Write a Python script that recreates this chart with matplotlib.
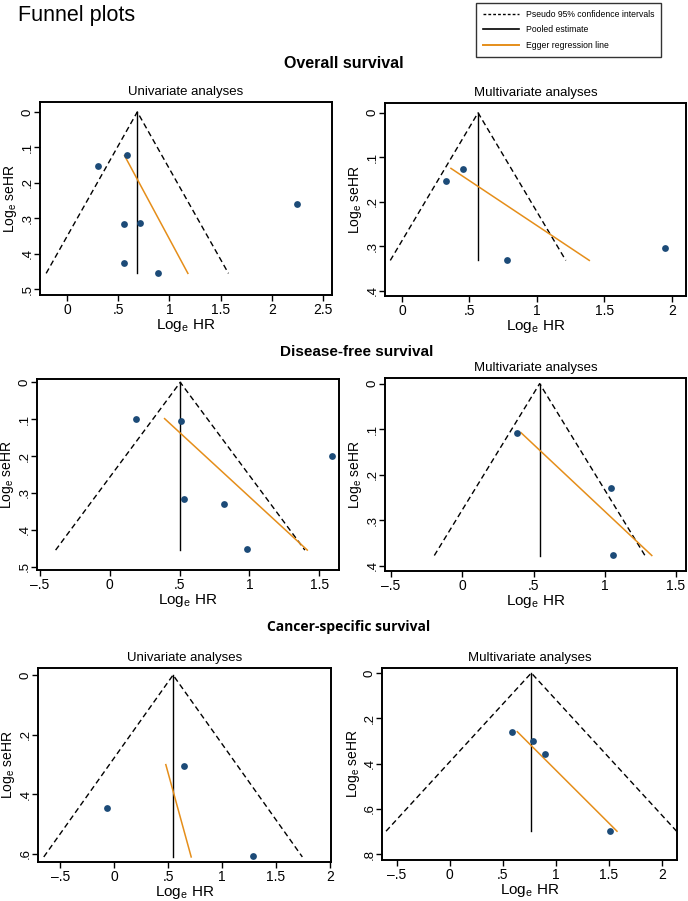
import matplotlib
matplotlib.use("Agg")
import matplotlib.pyplot as plt
from matplotlib.lines import Line2D

plt.rcParams['font.family'] = ['Liberation Sans', 'DejaVu Sans']
plt.rcParams['mathtext.default'] = 'regular'

# values
# overall survival, univariate
os_uni_hr = [0.30, 0.58, 2.25, 0.55, 0.71, 0.55, 0.89]
os_uni_se = [0.153, 0.122, 0.259, 0.317, 0.314, 0.427, 0.454]
os_uni_pooled, os_uni_semax = 0.685, 0.455
os_uni_egger = [(0.56, 0.123), (1.18, 0.455)]

# overall survival, multivariate
os_multi_hr = [0.33, 0.455, 0.776, 1.95]
os_multi_se = [0.153, 0.126, 0.331, 0.305]
os_multi_pooled, os_multi_semax = 0.564, 0.332
os_multi_egger = [(0.363, 0.125), (1.389, 0.332)]

# disease-free survival, univariate
dfs_uni_hr = [0.185, 0.51, 1.59, 0.529, 0.815, 0.98]
dfs_uni_se = [0.0995, 0.106, 0.200, 0.317, 0.330, 0.453]
dfs_uni_pooled, dfs_uni_semax = 0.505, 0.455
dfs_uni_egger = [(0.393, 0.0985), (1.414, 0.455)]

# disease-free survival, multivariate
dfs_multi_hr = [0.387, 1.047, 1.06]
dfs_multi_se = [0.1075, 0.229, 0.376]
dfs_multi_pooled, dfs_multi_semax = 0.543, 0.377
dfs_multi_egger = [(0.412, 0.1075), (1.33, 0.377)]

# cancer-specific survival, univariate
css_uni_hr = [-0.068, 0.643, 1.286]
css_uni_se = [0.448, 0.3045, 0.609]
css_uni_pooled, css_uni_semax = 0.546, 0.611
css_uni_egger = [(0.479, 0.301), (0.714, 0.611)]

# cancer-specific survival, multivariate
css_multi_hr = [0.587, 0.782, 0.895, 1.51]
css_multi_se = [0.259, 0.302, 0.359, 0.698]
css_multi_pooled, css_multi_semax = 0.769, 0.698
css_multi_egger = [(0.637, 0.259), (1.576, 0.698)]

W, H = 688, 901
DOT = '#1c4b78'
ORANGE = '#e58e1a'


def fmt(v):
    # stata style labels: .5, -.5, 1.5
    s = ('%g' % round(v, 2))
    if s.startswith('0.'):
        s = s[1:]
    elif s.startswith('-0.'):
        s = '-' + s[2:]
    return s.replace('-', '\u2013')


def panel(fig, box, hr, se, pooled, semax, egger, xlim, ylim, xticks, yticks, title):
    l, t, r, b = box
    ax = fig.add_axes([l / W, 1 - b / H, (r - l) / W, (b - t) / H])
    half = 1.96 * semax
    ax.plot([pooled - half, pooled, pooled + half], [semax, 0, semax],
            color='black', lw=1.0, ls=(0, (4, 2.5)))
    ax.plot([pooled, pooled], [0, semax], color='black', lw=1.0)
    ax.plot([egger[0][0], egger[1][0]], [egger[0][1], egger[1][1]],
            color=ORANGE, lw=1.1)
    ax.scatter(hr, se, s=24, color=DOT, zorder=5, linewidths=0)
    ax.set_xlim(*xlim)
    ax.set_ylim(*ylim)
    ax.set_xticks(xticks)
    ax.set_xticklabels([fmt(v) for v in xticks])
    ax.set_yticks(yticks)
    ax.set_yticklabels([fmt(v) for v in yticks], rotation=90, va='center')
    ax.tick_params(direction='out', length=4, width=1, labelsize=10)
    ax.tick_params(axis='x', pad=1.5)
    ax.tick_params(axis='y', pad=0.5, labelsize=9.5)
    for sp in ax.spines.values():
        sp.set_linewidth(1.4)
    ax.set_xlabel('Log$_e$ HR', fontsize=11, labelpad=0)
    ax.set_ylabel('Log$_e$ seHR', fontsize=10)
    # place the y label by pixels, the way the reference has it
    ax.yaxis.set_label_coords(-20.5 / (r - l), 0.5)
    if title:
        ax.set_title(title, fontsize=9.5, pad=5)
    return ax


fig = plt.figure(figsize=(W / 100, H / 100), dpi=100)

panel(fig, (40, 102, 332, 295), os_uni_hr, os_uni_se, os_uni_pooled, os_uni_semax,
      os_uni_egger, (-0.267, 2.59), (0.516, -0.028), [0, 0.5, 1, 1.5, 2, 2.5],
      [0, 0.1, 0.2, 0.3, 0.4, 0.5], 'Univariate analyses')
panel(fig, (385, 103, 686, 296), os_multi_hr, os_multi_se, os_multi_pooled, os_multi_semax,
      os_multi_egger, (-0.126, 2.106), (0.412, -0.022), [0, 0.5, 1, 1.5, 2],
      [0, 0.1, 0.2, 0.3, 0.4], 'Multivariate analyses')
panel(fig, (37, 379, 339, 570), dfs_uni_hr, dfs_uni_se, dfs_uni_pooled, dfs_uni_semax,
      dfs_uni_egger, (-0.52, 1.641), (0.509, -0.009), [-0.5, 0, 0.5, 1, 1.5],
      [0, 0.1, 0.2, 0.3, 0.4, 0.5], None)
panel(fig, (385, 378, 686, 571), dfs_multi_hr, dfs_multi_se, dfs_multi_pooled, dfs_multi_semax,
      dfs_multi_egger, (-0.542, 1.57), (0.411, -0.0124), [-0.5, 0, 0.5, 1, 1.5],
      [0, 0.1, 0.2, 0.3, 0.4], 'Multivariate analyses')
panel(fig, (38, 668, 331, 862), css_uni_hr, css_uni_se, css_uni_pooled, css_uni_semax,
      css_uni_egger, (-0.705, 2.009), (0.628, -0.0236), [-0.5, 0, 0.5, 1, 1.5, 2],
      [0, 0.2, 0.4, 0.6], 'Univariate analyses')
panel(fig, (382, 668, 677, 860), css_multi_hr, css_multi_se, css_multi_pooled, css_multi_semax,
      css_multi_egger, (-0.637, 2.141), (0.825, -0.022), [-0.5, 0, 0.5, 1, 1.5, 2],
      [0, 0.2, 0.4, 0.6, 0.8], 'Multivariate analyses')

# headings
fig.text(18 / W, 1 - 16 / H, 'Funnel plots', fontsize=15.5, va='center', ha='left')
fig.text(344 / W, 1 - 63 / H, 'Overall survival', fontsize=11.5, fontweight='bold',
         ha='center', va='center')
fig.text(357 / W, 1 - 352 / H, 'Disease-free survival', fontsize=11, fontweight='bold',
         ha='center', va='center')
fig.text(349 / W, 1 - 627 / H, 'Cancer-specific survival', fontsize=10, fontweight='bold',
         family=['Open Sans', 'DejaVu Sans'], ha='center', va='center')

# legend box
handles = [Line2D([], [], color='black', lw=1.0, ls=(0, (2, 1.5))),
           Line2D([], [], color='black', lw=1.2),
           Line2D([], [], color=ORANGE, lw=1.4)]
labels = ['Pseudo 95% confidence intervals', 'Pooled estimate', 'Egger regression line']
leg = fig.legend(handles, labels, loc='upper left',
                 bbox_to_anchor=(476 / W, 1 - 3 / H), fontsize=6.2,
                 frameon=True, fancybox=False, edgecolor='black',
                 handlelength=4.2, handletextpad=0.8, borderpad=0.8,
                 labelspacing=0.75, borderaxespad=0)
leg.get_frame().set_linewidth(1.0)

fig.savefig('out.png', dpi=100)
